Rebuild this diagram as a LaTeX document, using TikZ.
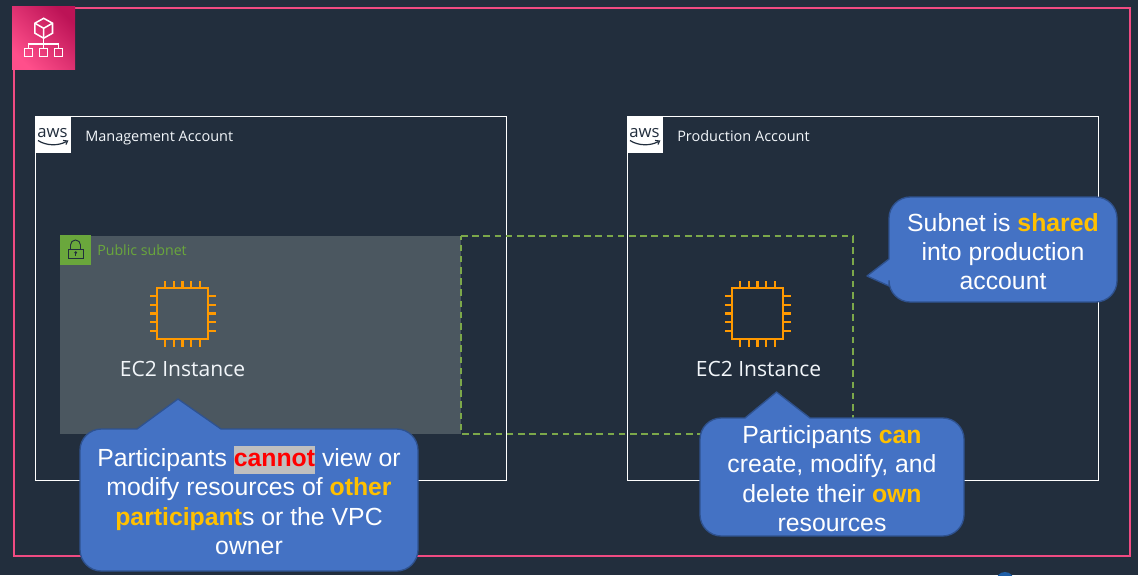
\documentclass[tikz,border=0pt]{standalone}
\usepackage{fontspec}
\setmainfont{Liberation Sans}
\newfontfamily\uifont{Open Sans}
\definecolor{bgc}{HTML}{222E3D}
\definecolor{pinkc}{HTML}{F04B82}
\definecolor{icondark}{HTML}{BC1356}
\definecolor{iconlight}{HTML}{FF4F8B}
\definecolor{subnetc}{HTML}{4B5760}
\definecolor{greenc}{HTML}{6AA73C}
\definecolor{dashc}{HTML}{7CA84A}
\definecolor{chipc}{HTML}{FF9900}
\definecolor{callc}{HTML}{4472C4}
\definecolor{callb}{HTML}{2F528F}
\definecolor{goldc}{HTML}{FFC000}
\definecolor{hlc}{HTML}{BFBFBF}
\definecolor{labelc}{HTML}{F2F6FA}
\definecolor{sliverc}{HTML}{1F5FA8}
\newcommand{\gold}[1]{\textcolor{goldc}{\textbf{#1}}}
\tikzset{
  x=0.75pt,y=-0.75pt,
  acct/.style={draw=white,line width=0.7pt},
  calloutshape/.style={fill=callc,draw=callb,line width=1pt,line join=round},
  calltext/.style={text=white,align=center,font=\fontsize{18.6}{22}\selectfont,inner sep=0pt},
  acctlabel/.style={anchor=base west,text=labelc,font=\uifont\fontsize{10.85}{12}\selectfont,inner sep=0pt},
  ec2label/.style={anchor=base,text=labelc,font=\uifont\fontsize{15.8}{18}\selectfont,inner sep=0pt},
  awstext/.style={anchor=base,text=bgc,font=\uifont\fontsize{12.5}{14}\selectfont,inner sep=0pt},
  iconline/.style={draw=white,line width=1.15pt,line join=miter},
  chip/.pic={
    \draw[chipc,line width=2pt] (-25.5,-25.5) rectangle (25.5,25.5);
    \foreach \t in {-17.3,-8.65,0,8.65,17.3}{
      \draw[chipc,line width=1.8pt] (\t,-25.5) -- (\t,-33);
      \draw[chipc,line width=1.8pt] (\t,25.5) -- (\t,33);
      \draw[chipc,line width=1.8pt] (-25.5,\t) -- (-33,\t);
      \draw[chipc,line width=1.8pt] (25.5,\t) -- (33,\t);
    }
  },
  awslogo/.pic={
    \fill[white] (0,0) rectangle (36.5,37);
    \node[awstext] at (18,21.5) {aws};
    \draw[bgc,line width=0.9pt] (3.5,24.5) .. controls (12,30) and (24,30) .. (32,25.5);
    \draw[bgc,line width=0.9pt] (28.5,24.5) -- (33,25) -- (31.5,28.5);
  }
}
\begin{document}
\begin{tikzpicture}
\useasboundingbox (0,0) rectangle (1138,575);
\fill[bgc] (0,0) rectangle (1138,575);
% outer group
\draw[pinkc,line width=1.8pt] (14,8) rectangle (1130,556);
\shade[left color=icondark,right color=iconlight,shading angle=-45] (12,6) rectangle (75,69);
\draw[iconline] (43.7,18.3) -- (52.5,23.2) -- (52.5,33.2) -- (43.7,38.2) -- (34.9,33.2) -- (34.9,23.2) -- cycle;
\draw[iconline] (34.9,23.2) -- (43.7,28.3) -- (52.5,23.2) (43.7,28.3) -- (43.7,38.2);
\draw[iconline] (43.7,38.2) -- (43.7,48.3) (28.5,48.3) -- (28.5,44) -- (58.5,44) -- (58.5,48.3);
\draw[iconline] (24.5,48.5) rectangle (32.5,56.5) (39.5,48.5) rectangle (47.5,56.5) (54.5,48.5) rectangle (62.5,56.5);
% accounts
\draw[acct] (35,116) rectangle (506,480);
\draw[acct] (627,116) rectangle (1098,480);
\pic at (34.5,116) {awslogo};
\pic at (626.5,116) {awslogo};
\node[acctlabel] (mgmtlabel) at (85,141) {Management Account};
\node[acctlabel] (prodlabel) at (677,141) {Production Account};
% subnet
\fill[subnetc] (60,236) rectangle (461,434);
\draw[dashc,line width=1pt,dash pattern=on 5pt off 3.4pt] (461,236) -- (853,236) -- (853,434) -- (461,434) -- cycle;
\fill[greenc] (60,234.5) rectangle (91,265);
\draw[bgc,line width=0.7pt] (68.3,249) rectangle (83,258.5);
\draw[bgc,line width=0.7pt] (70.5,249) -- (70.5,245) arc[start angle=180,end angle=360,radius=5] -- (80.5,249);
\fill[bgc] (75.7,252.6) circle (1.5);
\draw[bgc,line width=0.7pt] (75.7,252.6) -- (75.7,256);
\node[anchor=base west,text=greenc,font=\uifont\fontsize{10.65}{12}\selectfont,inner sep=0pt] (subnetlabel) at (97,255) {Public subnet};
% instances
\pic at (182.5,313.5) {chip};
\pic at (757.5,313.5) {chip};
\node[ec2label] (ec2a) at (182.5,376) {EC2 Instance};
\node[ec2label] (ec2b) at (758.5,376) {EC2 Instance};
% callouts
\draw[calloutshape] (178,399) -- (221,429) [rounded corners=16pt] -- (418,429) -- (418,571) -- (80,571) -- (80,429) [sharp corners] -- (137,429) -- cycle;
\node[calltext] (c1) at (249,500.5) {Participants {\fboxsep=0pt\colorbox{hlc}{\rule[-5.6pt]{0pt}{21pt}\textcolor{red}{\textbf{cannot}}}} view or\\modify resources of \gold{other}\\\gold{participant}s or the VPC\\owner};
\draw[calloutshape] (776.5,392) -- (810,418) [rounded corners=16pt] -- (964,418) -- (964,536) -- (700,536) -- (700,418) [sharp corners] -- (745,418) -- cycle;
\node[calltext] (c2) at (832,478.5) {Participants \gold{can}\\create, modify, and\\delete their \gold{own}\\resources};
\draw[calloutshape] (867,276) -- (889,259) [rounded corners=16pt] -- (889,197) -- (1117,197) -- (1117,302) -- (889,302) [sharp corners] -- (889,286) -- cycle;
\node[calltext] (c3) at (1003,251.5) {Subnet is \gold{shared}\\into production\\account};
% sliver at the bottom edge
\fill[sliverc] (1005,581) circle (9);
\end{tikzpicture}
\end{document}
